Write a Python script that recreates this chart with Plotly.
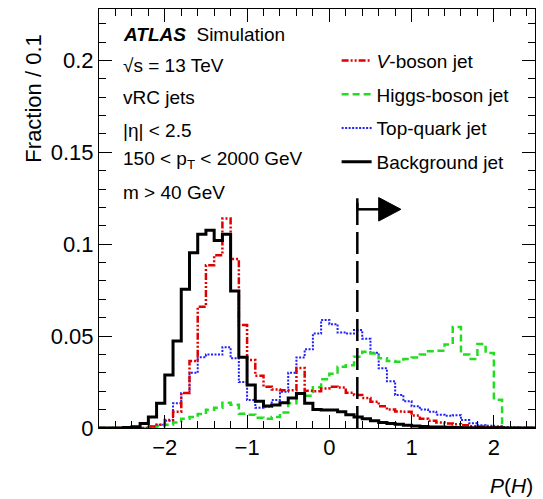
import plotly.graph_objects as go

# ---------------- data ----------------
BIN_WIDTH = 0.1
X_MIN, X_MAX = -2.8, 2.5
Y_MAX = 0.228
N_BINS = 53
bin_edges = [round(X_MIN + BIN_WIDTH * i, 2) for i in range(N_BINS + 1)]

v_boson = [0, 0, 0, 0, 0, 0, 0.0008, 0.0018, 0.0043, 0.0089,
           0.019, 0.0364, 0.066, 0.0886, 0.094, 0.114, 0.092, 0.056, 0.037, 0.0285,
           0.0225, 0.021, 0.0205, 0.0205, 0.0326, 0.0203, 0.020, 0.0215, 0.0225, 0.022,
           0.0192, 0.018, 0.0163, 0.0143, 0.0118, 0.010, 0.009, 0.0088, 0.0068, 0.005,
           0.004, 0.003, 0.0025, 0.002, 0.0015, 0.001, 0.0008, 0.0005, 0.0003, 0.0001,
           0, 0, 0]

higgs = [0, 0, 0, 0, 0, 0, 0.0005, 0.001, 0.0018, 0.003,
         0.005, 0.006, 0.0076, 0.0099, 0.011, 0.0138, 0.0127, 0.0077, 0.0072, 0.0056,
         0.0051, 0.006, 0.0085, 0.0135, 0.0189, 0.0175, 0.0222, 0.0265, 0.0295, 0.0333,
         0.0342, 0.0388, 0.0415, 0.0406, 0.038, 0.0365, 0.036, 0.0375, 0.0384, 0.040,
         0.0418, 0.042, 0.0455, 0.055, 0.040, 0.0375, 0.0457, 0.0408, 0.0154, 0.0,
         0, 0, 0]

top = [0, 0, 0, 0, 0, 0, 0.0008, 0.0018, 0.004, 0.0134,
       0.019, 0.030, 0.0385, 0.040, 0.040, 0.044, 0.038, 0.025, 0.0152, 0.011,
       0.0115, 0.0152, 0.0197, 0.030, 0.0384, 0.0428, 0.0514, 0.0588, 0.0565, 0.052,
       0.0514, 0.0533, 0.0485, 0.041, 0.0325, 0.0255, 0.018, 0.0145, 0.0118, 0.010,
       0.0089, 0.0072, 0.0066, 0.007, 0.0043, 0.0026, 0.0015, 0.0012, 0.0009, 0.0006,
       0.0004, 0.0002, 0.0001]

background = [0, 0, 0, 0.0003, 0.0007, 0.0025, 0.006, 0.0134, 0.0288, 0.0473,
              0.0755, 0.0953, 0.1054, 0.1076, 0.102, 0.1054, 0.0745, 0.0385, 0.0234, 0.0145,
              0.012, 0.0125, 0.0138, 0.0163, 0.0188, 0.0135, 0.0100, 0.0098, 0.0098, 0.0089,
              0.0072, 0.006, 0.005, 0.004, 0.003, 0.0025, 0.002, 0.0015, 0.0011, 0.0008,
              0.0006, 0.0005, 0.0004, 0.0003, 0.0002, 0.0001, 0.0001, 0.0001, 0.0001, 0.0,
              0, 0, 0]

series_names = ["<i>V</i>-boson jet", "Higgs-boson jet", "Top-quark jet", "Background jet"]
CUT = 0.34
ARROW_TOP = 0.125
ARROW_Y = 0.119

info_lines = ["<b><i>ATLAS</i></b>\u00a0\u00a0Simulation",
              "\u221as = 13 TeV",
              "vRC jets",
              "|\u03b7| < 2.5",
              "150 < p<sub>T</sub> < 2000 GeV",
              "m > 40 GeV"]

# ---------------- figure ----------------
FONT = "Liberation Sans, Arial, Helvetica, sans-serif"
fig = go.Figure()

styles = {
    series_names[0]: dict(color="#e00000", dash="7px,2px,2px,2px,2px,2px", width=2.5, rank=1, data=v_boson),
    series_names[1]: dict(color="#22dd22", dash="7px,4px", width=2.5, rank=2, data=higgs),
    series_names[2]: dict(color="#2020ff", dash="2px,1.5px", width=2, rank=3, data=top),
    series_names[3]: dict(color="black", dash="solid", width=3, rank=4, data=background),
}
draw_order = [series_names[2], series_names[1], series_names[0], series_names[3]]
for name in draw_order:
    s = styles[name]
    vals = s["data"]
    fig.add_trace(go.Scatter(
        x=bin_edges, y=vals + [vals[-1]], mode="lines",
        line=dict(shape="hv", color=s["color"], dash=s["dash"], width=s["width"]),
        name=name, legendgroup=name, legendrank=s["rank"], hoverinfo="skip"))

# cut line and arrow
fig.add_shape(type="line", x0=CUT, x1=CUT, y0=0, y1=ARROW_TOP, xref="x", yref="y",
              line=dict(color="black", width=2.5, dash="22px,7px"))
fig.add_shape(type="line", x0=CUT, x1=CUT, y0=ARROW_Y, y1=ARROW_TOP, xref="x", yref="y",
              line=dict(color="black", width=2.5))
fig.add_shape(type="line", x0=CUT, x1=CUT + 0.27, y0=ARROW_Y, y1=ARROW_Y, xref="x", yref="y",
              line=dict(color="black", width=2.5))
fig.add_shape(type="path",
              path=f"M {CUT + 0.26} {ARROW_Y + 0.0064} L {CUT + 0.53} {ARROW_Y} L {CUT + 0.26} {ARROW_Y - 0.0064} Z",
              xref="x", yref="y", fillcolor="black", line=dict(color="black", width=1))

# info text
info_y = [0.938, 0.866, 0.788, 0.711, 0.640, 0.561]
for t, yy in zip(info_lines, info_y):
    fig.add_annotation(text=t, x=0.05, y=yy, xref="paper", yref="paper",
                       xanchor="left", yanchor="middle", showarrow=False,
                       font=dict(size=19, family=FONT, color="black"))

# axis titles
fig.add_annotation(text="<i>P</i>(<i>H</i>)", x=1.0, y=-0.1695, xref="paper", yref="paper",
                   xanchor="right", yanchor="bottom", showarrow=False,
                   font=dict(size=21, family=FONT, color="black"))
fig.add_annotation(text="Fraction / 0.1", x=-0.151, y=0.944, xref="paper", yref="paper",
                   xanchor="center", yanchor="top", textangle=-90, showarrow=False,
                   font=dict(size=22, family=FONT, color="black"))

fig.update_layout(
    width=543, height=499, autosize=False,
    margin=dict(l=99, r=8, t=9, b=71),
    paper_bgcolor="white", plot_bgcolor="white",
    font=dict(family=FONT, size=22, color="black"),
    xaxis=dict(range=[X_MIN, X_MAX], showgrid=False, zeroline=False, showline=True,
               linecolor="black", linewidth=1, mirror="allticks", ticks="inside",
               ticklen=13, tickcolor="black", tickwidth=1, dtick=1, tick0=0,
               minor=dict(dtick=0.2, tick0=0, ticks="inside", ticklen=7, tickcolor="black"),
               tickfont=dict(size=22)),
    yaxis=dict(range=[0, Y_MAX], showgrid=False, zeroline=False, showline=True,
               linecolor="black", linewidth=1, mirror="allticks", ticks="inside",
               ticklen=13, tickcolor="black", tickwidth=1, dtick=0.05, tick0=0,
               minor=dict(dtick=0.01, tick0=0, ticks="inside", ticklen=7, tickcolor="black"),
               tickfont=dict(size=22)),
    legend=dict(x=0.545, y=0.922, xanchor="left", yanchor="top", bgcolor="rgba(0,0,0,0)",
                font=dict(size=19, family=FONT), tracegroupgap=6, itemwidth=30,
                traceorder="grouped"),
    showlegend=True,
)

fig.write_html("out.html")
